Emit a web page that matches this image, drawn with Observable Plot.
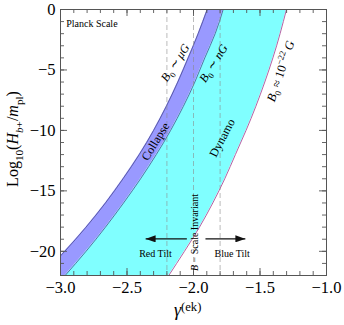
<!DOCTYPE html>
<html>
<head>
<meta charset="utf-8">
<script src="https://cdn.jsdelivr.net/npm/d3@7"></script>
<script src="https://cdn.jsdelivr.net/npm/@observablehq/plot@0.6"></script>
<style>
  html, body { margin: 0; padding: 0; background: white; }
</style>
</head>
<body>
<div id="chart"></div>
<script>
// ---- data ----
const yGrid        = [0, -2, -4, -6, -8, -10, -12, -14, -16, -18, -20, -22];
const collapseEdge = [-1.897, -1.965, -2.040, -2.118, -2.204, -2.300, -2.408, -2.530, -2.662, -2.808, -2.968, -3.140];
const nanoGaussEdge= [-1.777, -1.837, -1.915, -1.990, -2.076, -2.172, -2.280, -2.398, -2.526, -2.662, -2.808, -2.965];
const floorEdge    = [-1.301, -1.349, -1.403, -1.464, -1.531, -1.605, -1.685, -1.765, -1.855, -1.955, -2.068, -2.186];

const guideX = [-2.2, -2.0, -1.8];

const xTicks = [-3, -2.5, -2, -1.5, -1];
const xTickLabels = ["\u22123.0", "\u22122.5", "\u22122.0", "\u22121.5", "\u22121.0"];
const yTicks = [0, -5, -10, -15, -20];
const yTickLabels = ["0", "\u22125", "\u221210", "\u221215", "\u221220"];
const xMinorTicks = d3.range(-3, -0.999, 0.1).map(v => +v.toFixed(2));
const yMinorTicks = d3.range(-22, 0.001, 1);

const arrowStart = [-2.05, -1.91];
const arrowEnd   = [-2.36, -1.61];
const arrowY     = [-18.97, -18.97];

const bandLabels    = ["Collapse", "Dynamo"];
const bandLabelX    = [-2.286, -1.784];
const bandLabelY    = [-10.92, -10.63];
const bandLabelRot  = [-58.7, -62.5];

const tiltLabels    = ["Red Tilt", "Blue Tilt"];
const tiltLabelX    = [-2.286, -1.709];
const tiltLabelY    = [-20.2, -20.2];

const planckLabel = ["Planck Scale"];
const planckX = -2.957, planckY = -1.2;

// ---- tables built from the arrays ----
const rows = yGrid.map((y, i) => ({y, left: collapseEdge[i], mid: nanoGaussEdge[i], right: floorEdge[i]}));
const arrows = arrowStart.map((x1, i) => ({x1, x2: arrowEnd[i], y: arrowY[i]}));
const bandRows = bandLabels.map((text, i) => ({text, x: bandLabelX[i], y: bandLabelY[i], rotate: bandLabelRot[i]}));
const tiltRows = tiltLabels.map((text, i) => ({text, x: tiltLabelX[i], y: tiltLabelY[i]}));

const serif = "'Liberation Serif', 'Times New Roman', Times, serif";
const frameColor = "#555";

const W = 344, H = 325, ML = 60, MR = 18, MT = 9, MB = 50;
const frameW = W - ML - MR, frameH = H - MT - MB;

// inward ticks drawn as tick marks inset to a short length
const tx = (data, len, side) => Plot.tickX(data, {x: d => d, stroke: frameColor, strokeWidth: 0.9,
  insetTop: side === "bottom" ? frameH - len : 0, insetBottom: side === "top" ? frameH - len : 0});
const ty = (data, len, side) => Plot.tickY(data, {y: d => d, stroke: frameColor, strokeWidth: 0.9,
  insetRight: side === "left" ? frameW - len : 0, insetLeft: side === "right" ? frameW - len : 0});

const plot = Plot.plot({
  width: W,
  height: H,
  marginLeft: ML,
  marginRight: MR,
  marginTop: MT,
  marginBottom: MB,
  x: {domain: [-3, -1]},
  y: {domain: [-22, 0]},
  style: {fontFamily: serif, fontSize: "16px", background: "white", color: "black", overflow: "visible"},
  marks: [
    Plot.areaX(rows, {y: "y", x1: "mid", x2: "right", fill: "#80ffff", curve: "natural", clip: true}),
    Plot.areaX(rows, {y: "y", x1: "left", x2: "mid", fill: "#9999ff", curve: "natural", clip: true}),
    Plot.lineX(rows, {x: "left", y: "y", stroke: "#4b4b8f", strokeWidth: 0.8, curve: "natural", clip: true}),
    Plot.lineX(rows, {x: "mid", y: "y", stroke: "#4b4b8f", strokeWidth: 0.8, curve: "natural", clip: true}),
    Plot.lineX(rows, {x: "right", y: "y", stroke: "#a8509a", strokeWidth: 0.9, curve: "natural", clip: true}),
    Plot.ruleX(guideX, {stroke: "#8a8a8a", strokeOpacity: 0.65, strokeWidth: 0.9, strokeDasharray: "5,3"}),
    Plot.link(arrows, {x1: "x1", x2: "x2", y1: "y", y2: "y", stroke: "#111", strokeWidth: 1.1}),
    Plot.text(bandRows, {x: "x", y: "y", text: "text", rotate: "rotate", fontSize: 12, fill: "black"}),
    Plot.text(tiltRows, {x: "x", y: "y", text: "text", fontSize: 10, fill: "black"}),
    Plot.text(planckLabel, {x: () => planckX, y: () => planckY, text: d => d, textAnchor: "start", fontSize: 10, fill: "black"}),
    // inward ticks on all four sides (major 7px, minor 4px)
    tx(xTicks, 7, "bottom"), tx(xMinorTicks, 4, "bottom"),
    tx(xTicks, 7, "top"), tx(xMinorTicks, 4, "top"),
    ty(yTicks, 7, "left"), ty(yMinorTicks, 4, "left"),
    ty(yTicks, 7, "right"), ty(yMinorTicks, 4, "right"),
    // tick labels
    Plot.axisX(xTicks, {anchor: "bottom", tickSize: 0, tickPadding: 6, fontSize: 16.5, tickFormat: d => xTickLabels[xTicks.indexOf(d)], label: null}),
    Plot.axisY(yTicks, {anchor: "left", tickSize: 0, tickPadding: 5, fontSize: 16.5, tickFormat: d => yTickLabels[yTicks.indexOf(d)], label: null}),
    Plot.frame({stroke: frameColor, strokeWidth: 1})
  ]
});

document.getElementById("chart").appendChild(plot);

// ---- rich-text annotations positioned through Plot's scales ----
const sx = plot.scale("x"), sy = plot.scale("y");
const svg = d3.select(plot);

// filled arrowheads on the two tilt arrows
const defs = svg.append("defs");
defs.append("marker")
  .attr("id", "tilt-head")
  .attr("viewBox", "0 0 10 7")
  .attr("refX", 10).attr("refY", 3.5)
  .attr("markerUnits", "userSpaceOnUse")
  .attr("markerWidth", 10).attr("markerHeight", 7)
  .attr("orient", "auto")
  .append("path").attr("d", "M0,0L10,3.5L0,7Z").attr("fill", "#111");
svg.selectAll('g[aria-label="link"] path').attr("marker-end", "url(#tilt-head)");

function rich(parent, parts, fs, supShift = 0.42) {
  const t = parent.append("text")
    .attr("font-family", serif)
    .attr("font-size", fs)
    .attr("fill", "black")
    .attr("text-anchor", "middle")
    .attr("y", 0.35 * fs);
  let cur = 0;
  parts.forEach(p => {
    const target = p.s === "sub" ? 0.28 * fs : p.s === "sup" ? -supShift * fs : 0;
    const ts = t.append("tspan").attr("dy", target - cur).text(p.t);
    cur = target;
    if (p.i) ts.attr("font-style", "italic");
    if (p.s) ts.attr("font-size", 0.7 * fs);
  });
  return t;
}

function place(parts, x, y, rot, fs) {
  const g = svg.append("g")
    .attr("transform", `translate(${sx.apply(x)},${sy.apply(y)}) rotate(${rot})`);
  rich(g, parts, fs);
}

// B0 labels
const bLabelX = [-2.135, -1.847, -1.342];
const bLabelY = [-4.43, -4.49, -5.13];
const bLabelRot = [-57, -57.6, -71.5];
place([{t: "B", i: 1}, {t: "0", s: "sub"}, {t: " \u223C "}, {t: "\u03BCG", i: 1}], bLabelX[0], bLabelY[0], bLabelRot[0], 12);
place([{t: "B", i: 1}, {t: "0", s: "sub"}, {t: " \u223C "}, {t: "nG", i: 1}], bLabelX[1], bLabelY[1], bLabelRot[1], 12);
place([{t: "B", i: 1}, {t: "0", s: "sub"}, {t: " \u2248 10"}, {t: "\u221222", s: "sup"}, {t: " G", i: 1}], bLabelX[2], bLabelY[2], bLabelRot[2], 12.5);

// B-scale invariant label along the x = -2 guide
place([{t: "B", i: 1}, {t: " \u2212 Scale Invariant"}], -1.985, -18.49, -90, 10);

// axis titles
const yTitle = svg.append("g").attr("transform", `translate(12.5,${sy.apply(-10.75)}) rotate(-90)`);
rich(yTitle, [{t: "Log"}, {t: "10", s: "sub"}, {t: "("}, {t: "H", i: 1}, {t: "b", s: "sub", i: 1}, {t: "+", s: "sub"}, {t: "/"}, {t: "m", i: 1}, {t: "pl", s: "sub"}, {t: ")"}], 16);

const xTitle = svg.append("g").attr("transform", `translate(${sx.apply(-2.04)},310)`);
rich(xTitle, [{t: "\u03B3", i: 1}, {t: "(ek)", s: "sup"}], 18, 0.28);
</script>
</body>
</html>
